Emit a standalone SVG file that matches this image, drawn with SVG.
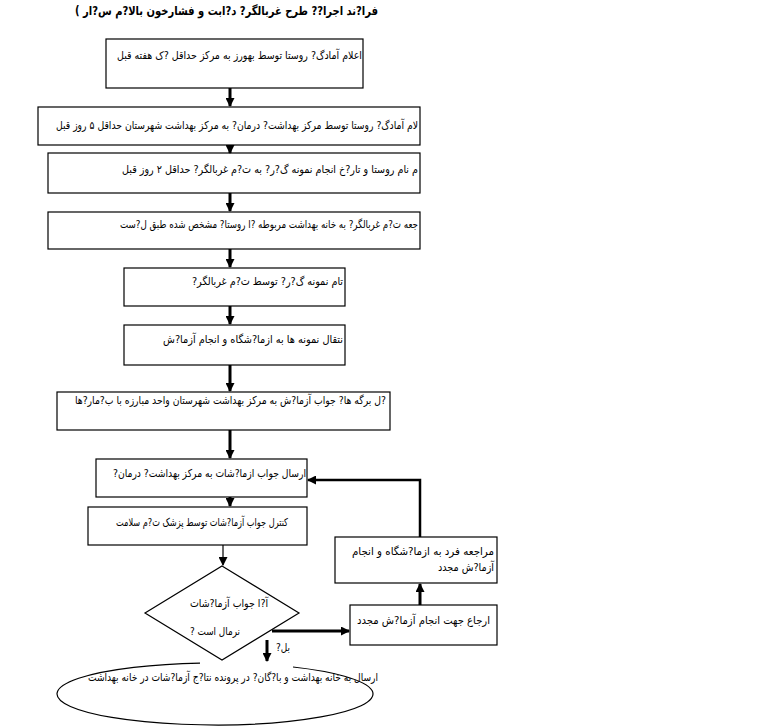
<svg xmlns="http://www.w3.org/2000/svg" width="778" height="726" viewBox="0 0 778 726">
<defs>
<marker id="ah" markerUnits="userSpaceOnUse" markerWidth="9" markerHeight="9" refX="8" refY="4.5" orient="auto"><path d="M0,0 L9,4.5 L0,9 z" fill="#000"/></marker>
<style>
.box{fill:#fff;stroke:#000;stroke-width:1.2}
.t{font-family:"DejaVu Sans","Noto Sans",sans-serif;font-size:11px;fill:#000;direction:rtl;text-anchor:start}
.title{font-weight:bold;font-size:12px}
.thick{stroke:#000;stroke-width:3;fill:none}
.thin{stroke:#000;stroke-width:1.2;fill:none}
</style>
</defs>
<rect width="778" height="726" fill="#fff"/>
<text class="t title" x="378" y="15" textLength="303" lengthAdjust="spacingAndGlyphs">فرا?ند اجرا?? طرح غربالگر? د?ابت و فشارخون بالا?م س?ار )</text>

<g id="n1"><rect class="box" x="106" y="39" width="257" height="49"/><text class="t" x="362" y="59" textLength="245" lengthAdjust="spacingAndGlyphs">اعلام آمادگ? روستا توسط بهورز به مرکز حداقل ?ک هفته قبل</text></g>
<g id="n2"><rect class="box" x="38" y="107" width="382" height="38"/><text class="t" x="418" y="129" textLength="362" lengthAdjust="spacingAndGlyphs">لام آمادگ? روستا توسط مرکز بهداشت? درمان? به مرکز بهداشت شهرستان حداقل ۵ روز قبل</text></g>
<g id="n3"><rect class="box" x="48" y="153" width="372" height="40"/><text class="t" x="418" y="173" textLength="296" lengthAdjust="spacingAndGlyphs">م نام روستا و تار?خ انجام نمونه گ?ر? به ت?م غربالگر? حداقل ۲ روز قبل</text></g>
<g id="n4"><rect class="box" x="48" y="212" width="372" height="37"/><text class="t" x="418" y="228" textLength="298" lengthAdjust="spacingAndGlyphs">جعه ت?م غربالگر? به خانه بهداشت مربوطه ?ا روستا? مشخص شده طبق ل?ست</text></g>
<g id="n5"><rect class="box" x="124" y="268" width="221" height="38"/><text class="t" x="343" y="285" textLength="151" lengthAdjust="spacingAndGlyphs">تام نمونه گ?ر? توسط ت?م غربالگر?</text></g>
<g id="n6"><rect class="box" x="124" y="325" width="221" height="40"/><text class="t" x="343" y="343" textLength="180" lengthAdjust="spacingAndGlyphs">نتقال نمونه ها به ازما?شگاه و انجام آزما?ش</text></g>
<g id="n7"><rect class="box" x="57" y="392" width="333" height="38"/><text class="t" x="386" y="404" textLength="311" lengthAdjust="spacingAndGlyphs">?ل برگه ها? جواب آزما?ش به مرکز بهداشت شهرستان واحد مبارزه با ب?مار?ها</text></g>
<g id="n8"><rect class="box" x="96" y="459" width="211" height="38"/><text class="t" x="306" y="477" textLength="193" lengthAdjust="spacingAndGlyphs">ارسال جواب ازما?شات به مرکز بهداشت? درمان?</text></g>
<g id="n9"><rect class="box" x="88" y="507" width="219" height="38"/><text class="t" x="288" y="526" textLength="172" lengthAdjust="spacingAndGlyphs">کنترل جواب آزما?شات توسط پزشک ت?م سلامت</text></g>
<g id="n10"><polygon class="box" points="222,566 299,613 222,660 145,613"/><text class="t" x="268" y="607" textLength="78" lengthAdjust="spacingAndGlyphs">آ?ا جواب آزما?شات</text><text class="t" x="240" y="635" textLength="50" lengthAdjust="spacingAndGlyphs">نرمال است ?</text></g>
<g id="n11"><rect class="box" x="335" y="537" width="162" height="46"/><text class="t" x="494" y="555" textLength="142" lengthAdjust="spacingAndGlyphs">مراجعه فرد به ازما?شگاه و انجام</text><text class="t" x="494" y="571" textLength="56" lengthAdjust="spacingAndGlyphs">آزما?ش مجدد</text></g>
<g id="n12"><rect class="box" x="350" y="605" width="147" height="40"/><text class="t" x="490" y="624" textLength="133" lengthAdjust="spacingAndGlyphs">ارجاع جهت انجام آزما?ش مجدد</text></g>
<g id="n13"><path class="thin" d="M293 667 A158 31 0 1 1 200 663.1" fill="#fff"/><text class="t" x="378" y="681" textLength="290" lengthAdjust="spacingAndGlyphs">ارسال به خانه بهداشت و با?گان? در پرونده نتا?ج آزما?شات در خانه بهداشت</text></g>

<g id="connectors">
<line class="thick" x1="230" y1="88" x2="230" y2="106" marker-end="url(#ah)"/>
<line class="thick" x1="230" y1="145" x2="230" y2="153" marker-end="url(#ah)"/>
<line class="thick" x1="230" y1="193" x2="230" y2="211" marker-end="url(#ah)"/>
<line class="thick" x1="230" y1="249" x2="230" y2="267" marker-end="url(#ah)"/>
<line class="thick" x1="230" y1="306" x2="230" y2="324" marker-end="url(#ah)"/>
<line class="thick" x1="230" y1="365" x2="230" y2="391" marker-end="url(#ah)"/>
<line class="thick" x1="230" y1="430" x2="230" y2="458" marker-end="url(#ah)"/>
<line class="thick" x1="230" y1="497" x2="230" y2="506" marker-end="url(#ah)"/>
<line class="thin" x1="223" y1="545" x2="223" y2="565" marker-end="url(#ah)"/>
<line class="thick" x1="272" y1="631" x2="349" y2="631" marker-end="url(#ah)"/>
<line class="thick" x1="420" y1="605" x2="420" y2="584" marker-end="url(#ah)"/>
<polyline class="thick" points="420,537 420,480 308,480" marker-end="url(#ah)" style="stroke-width:2.5"/>
<line class="thick" x1="267" y1="640" x2="267" y2="661" marker-end="url(#ah)"/>
<text class="t" x="290" y="651" textLength="14" lengthAdjust="spacingAndGlyphs">بل?</text>
</g>
</svg>
